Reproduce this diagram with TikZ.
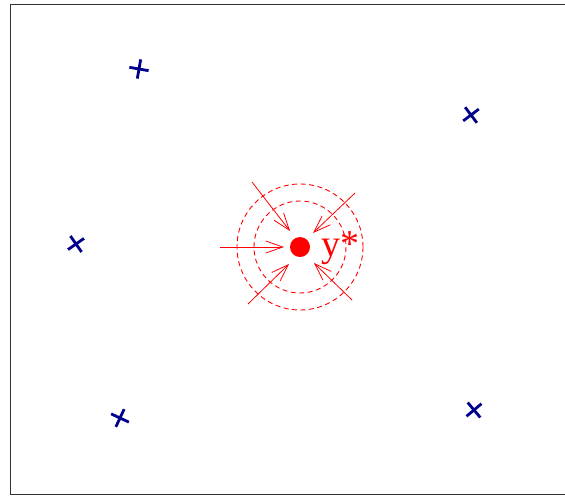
\documentclass[tikz,border=0pt]{standalone}
\usepackage{fontspec}
\newfontfamily\labfont{Liberation Serif}
\usetikzlibrary{arrows.meta,shapes.misc}
\begin{document}
\begin{tikzpicture}[x=1pt,y=-1pt,
  frameline/.style={draw=black!80,line width=0.9pt},
  datapt/.style={cross out,draw={rgb,255:red,0;green,0;blue,140},line width=2.8pt,minimum size=11pt,inner sep=0pt},
  ring/.style={draw=red,dashed,dash pattern=on 5pt off 3.5pt,line width=0.9pt},
  pull/.style={draw=red,line width=0.8pt,-{Straight Barb[length=17pt,width=12pt,line width=0.8pt]}}]
\useasboundingbox (0,0) rectangle (565,496);
\draw[frameline] (580,4.5) -- (10.5,4.5) -- (10.5,494) -- (580,494);
\node[datapt,rotate=35] (p1) at (139,69) {};
\node[datapt,rotate=-8] (p2) at (471,115) {};
\node[datapt,rotate=-10] (p3) at (76,244) {};
\node[datapt,rotate=20] (p4) at (120,418) {};
\node[datapt,rotate=-5] (p5) at (474,410) {};
\node[circle,fill=red,minimum size=20pt,inner sep=0pt] (y) at (300,247) {};
\node[red,anchor=base west,inner sep=0pt,font=\labfont\fontsize{38}{38}\selectfont] (lab) at (321,256) {y*};
\draw[ring] (y.center) circle[radius=46];
\draw[ring] (y.center) circle[radius=63];
\coordinate (s1) at (252,182); \coordinate (e1) at (290,231);
\coordinate (s2) at (355,193); \coordinate (e2) at (313,233);
\coordinate (s3) at (220,247); \coordinate (e3) at (284,247);
\coordinate (s4) at (248,304); \coordinate (e4) at (289,264);
\coordinate (s5) at (352,300); \coordinate (e5) at (314,263);
\draw[pull] (s1) -- (e1);
\draw[pull] (s2) -- (e2);
\draw[pull] (s3) -- (e3);
\draw[pull] (s4) -- (e4);
\draw[pull] (s5) -- (e5);
\end{tikzpicture}
\end{document}
